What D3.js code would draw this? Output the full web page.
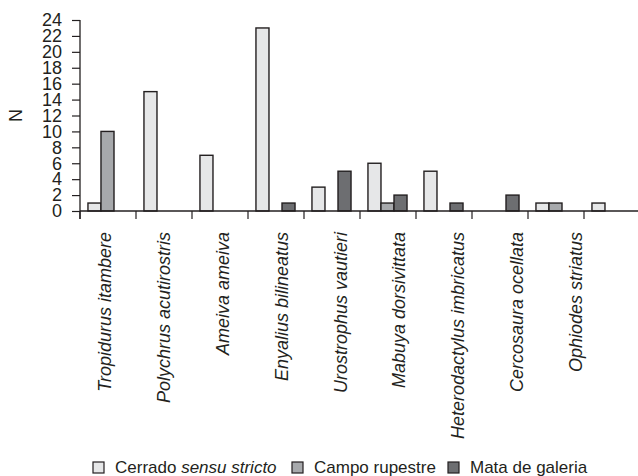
<!DOCTYPE html>
<html>
<head>
<meta charset="utf-8">
<script src="https://cdn.jsdelivr.net/npm/d3@7"></script>
<style>
  html, body { margin: 0; padding: 0; background: #fff; }
  svg { display: block; font-family: 'Liberation Sans', Arial, sans-serif; }
</style>
</head>
<body>
<div id="chart"></div>
<script>
// species names as printed under the axis (only 9 names for 10 groups of bars)
const species = [
  'Tropidurus itambere', 'Polychrus acutirostris', 'Ameiva ameiva',
  'Enyalius bilineatus', 'Urostrophus vautieri', 'Mabuya dorsivittata',
  'Heterodactylus imbricatus', 'Cercosaura ocellata', 'Ophiodes striatus'
];

const habitats = ['cerrado', 'campo', 'mata'];

// N per bar group
const cerrado = [1, 15, 7, 23, 3, 6, 5, 0, 1, 1];
const campo   = [10, 0, 0, 0, 0, 1, 0, 0, 1, 0];
const mata    = [0, 0, 0, 1, 5, 2, 1, 2, 0, 0];

const yTicks = [0, 2, 4, 6, 8, 10, 12, 14, 16, 18, 20, 22, 24];

const FILL = { cerrado: '#e6e7e8', campo: '#a7a9ac', mata: '#6d6e71' };
const INK  = '#231f20';

const W = 638, H = 476;
const svg = d3.select('#chart').append('svg')
  .attr('width', W).attr('height', H);

const groups = d3.range(cerrado.length);
const rows = groups.map(i => ({ i, cerrado: cerrado[i], campo: campo[i], mata: mata[i] }));

const x0 = d3.scaleBand().domain(groups).range([80, 640]);
const x1 = d3.scaleBand().domain(habitats).range([0, x0.bandwidth()])
  .paddingOuter(0.65).align(0.47);
const y  = d3.scaleLinear().domain([0, 24]).range([211, 20]);

// y axis
svg.append('g')
  .attr('transform', 'translate(80,0)')
  .call(d3.axisLeft(y).tickValues(yTicks).tickSize(8).tickPadding(10))
  .call(a => a.select('.domain').remove())
  .call(a => a.selectAll('.tick line').attr('stroke', INK).attr('stroke-width', 1.2))
  .call(a => a.selectAll('.tick text').attr('fill', INK).attr('font-size', 18)
    .attr('font-family', "'Liberation Sans', Arial, sans-serif"));

svg.append('line')
  .attr('x1', 80).attr('x2', 80)
  .attr('y1', y(24)).attr('y2', y(0) + 8)
  .attr('stroke', INK).attr('stroke-width', 1.3);

svg.append('text')
  .attr('transform', `translate(16,${(y(0) + y(24)) / 2}) rotate(-90)`)
  .attr('text-anchor', 'middle').attr('dominant-baseline', 'central')
  .attr('font-size', 18).attr('fill', INK)
  .text('N');

// bars
const grp = svg.append('g').selectAll('g')
  .data(rows).enter().append('g')
  .attr('transform', d => `translate(${x0(d.i)},0)`);

grp.selectAll('rect')
  .data(d => habitats.map(k => ({ k, v: d[k] })).filter(b => b.v > 0))
  .enter().append('rect')
  .attr('x', b => x1(b.k))
  .attr('y', b => y(b.v))
  .attr('width', x1.bandwidth())
  .attr('height', b => y(0) - y(b.v))
  .attr('fill', b => FILL[b.k])
  .attr('stroke', INK).attr('stroke-width', 1.4);

// x axis line + ticks at group boundaries
svg.append('line')
  .attr('x1', 80).attr('x2', W)
  .attr('y1', y(0)).attr('y2', y(0))
  .attr('stroke', INK).attr('stroke-width', 1.3);

svg.append('g').selectAll('line')
  .data(groups)
  .enter().append('line')
  .attr('x1', d => x0(d)).attr('x2', d => x0(d))
  .attr('y1', y(0)).attr('y2', y(0) + 8)
  .attr('stroke', INK).attr('stroke-width', 1.2);

// species labels
const xl = d3.scalePoint().domain(species).range([105, 576]);
svg.append('g').selectAll('text')
  .data(species).enter().append('text')
  .attr('transform', d => `translate(${xl(d)},232) rotate(-90)`)
  .attr('text-anchor', 'end').attr('dominant-baseline', 'central')
  .attr('font-size', 18).attr('font-style', 'italic').attr('fill', INK)
  .text(d => d);

// legend
const legend = [
  { k: 'cerrado', parts: [['Cerrado ', 'normal'], ['sensu stricto', 'italic']], x: 93 },
  { k: 'campo',   parts: [['Campo rupestre', 'normal']], x: 292 },
  { k: 'mata',    parts: [['Mata de galeria', 'normal']], x: 448 }
];
const lg = svg.append('g').selectAll('g')
  .data(legend).enter().append('g')
  .attr('transform', d => `translate(${d.x},462)`);
lg.append('rect')
  .attr('width', 11).attr('height', 11)
  .attr('fill', d => FILL[d.k]).attr('stroke', INK).attr('stroke-width', 1.2);
const lt = lg.append('text')
  .attr('x', 22).attr('y', 11)
  .attr('font-size', 17).attr('fill', INK);
lt.selectAll('tspan')
  .data(d => d.parts).enter().append('tspan')
  .attr('font-style', p => p[1])
  .text(p => p[0]);
</script>
</body>
</html>
